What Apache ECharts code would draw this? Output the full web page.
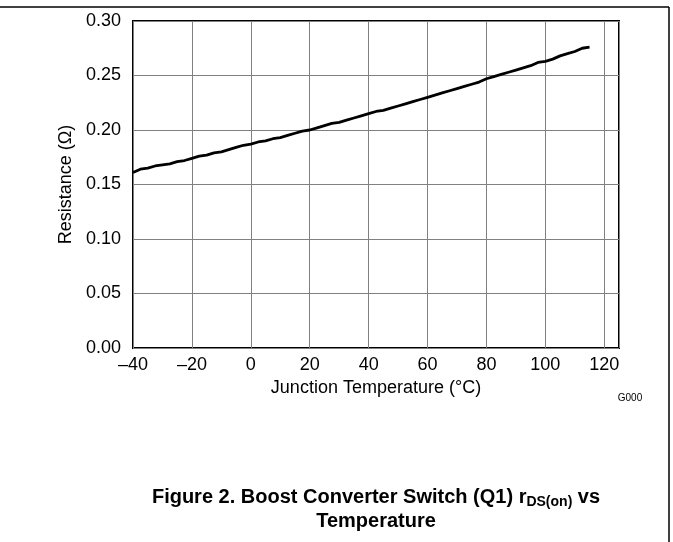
<!DOCTYPE html>
<html>
<head>
<meta charset="utf-8">
<script src="https://cdn.jsdelivr.net/npm/echarts@6/dist/echarts.min.js"></script>
<style>
html,body{margin:0;padding:0;background:#fff;}
#chart{width:673px;height:542px;}
</style>
</head>
<body>
<div id="chart"></div>
<script>
// Data
var temperature = [-40,-37.5,-35,-32.5,-30,-27.5,-25,-22.5,-20,-17.5,-15,-12.5,-10,-7.5,-5,-2.5,0,2.5,5,7.5,10,12.5,15,17.5,20,22.5,25,27.5,30,32.5,35,37.5,40,42.5,45,47.5,50,52.5,55,57.5,60,62.5,65,67.5,70,72.5,75,77.5,80,82.5,85,87.5,90,92.5,95,97.5,100,102.5,105,107.5,110,112.5,115];
var resistance = [0.161,0.164,0.165,0.167,0.168,0.169,0.171,0.172,0.174,0.176,0.177,0.179,0.180,0.182,0.184,0.186,0.187,0.189,0.190,0.192,0.193,0.195,0.197,0.199,0.200,0.202,0.204,0.206,0.207,0.209,0.211,0.213,0.215,0.217,0.218,0.220,0.222,0.224,0.226,0.228,0.230,0.232,0.234,0.236,0.238,0.240,0.242,0.244,0.247,0.249,0.251,0.253,0.255,0.257,0.259,0.262,0.263,0.265,0.268,0.270,0.272,0.275,0.276];
var xTicks = [-40,-20,0,20,40,60,80,100,120];
var yTicks = [0.00,0.05,0.10,0.15,0.20,0.25,0.30];
var xMax = 125;

var seriesData = temperature.map(function(t,i){return [t, resistance[i]];});
var FONT = '"Liberation Sans", Arial, sans-serif';

var chart = echarts.init(document.getElementById('chart'), null, {renderer:'canvas'});
chart.setOption({
  animation:false,
  backgroundColor:'#fff',
  grid:{left:133,right:54,top:21,bottom:194,show:true,borderColor:'#000',borderWidth:2,backgroundColor:'transparent'},
  xAxis:{
    type:'value', min:xTicks[0], max:xMax, interval:xTicks[1]-xTicks[0],
    name:'Junction Temperature (°C)', nameLocation:'middle', nameGap:29,
    nameTextStyle:{fontFamily:FONT,fontSize:18,color:'#000'},
    axisLine:{show:false}, axisTick:{show:false},
    axisLabel:{fontFamily:FONT,fontSize:18,color:'#000',margin:8,showMaxLabel:false,
      formatter:function(v){return v<0?'\u2013'+Math.abs(v):String(v);}},
    splitLine:{show:true,lineStyle:{color:'#808080',width:1}}
  },
  yAxis:{
    type:'value', min:yTicks[0], max:yTicks[yTicks.length-1], interval:yTicks[1]-yTicks[0],
    name:'Resistance (\u03A9)', nameLocation:'middle', nameGap:54,
    nameTextStyle:{fontFamily:FONT,fontSize:18,color:'#000'},
    axisLine:{show:false}, axisTick:{show:false},
    axisLabel:{fontFamily:FONT,fontSize:18,color:'#000',margin:12,
      formatter:function(v){return v.toFixed(2);}},
    splitLine:{show:true,lineStyle:{color:'#808080',width:1}}
  },
  series:[{
    type:'line', data:seriesData, showSymbol:false, smooth:false,
    lineStyle:{color:'#000',width:2.8}, z:3
  }],
  graphic:[
    {type:'line',shape:{x1:0,y1:7,x2:669,y2:7},style:{stroke:'#000',lineWidth:1.5},silent:true},
    {type:'line',shape:{x1:669,y1:7,x2:669,y2:542},style:{stroke:'#000',lineWidth:1.5},silent:true},
    {type:'text',x:630,y:398,style:{text:'G000',fontFamily:FONT,fontSize:10,fill:'#000',textAlign:'center',textVerticalAlign:'middle'}},
    {type:'text',x:376,y:497,style:{
      text:'{b|Figure 2. Boost Converter Switch (Q1) r}{s|DS(on)}{b| vs}',
      fontFamily:FONT,fill:'#000',textAlign:'center',textVerticalAlign:'middle',
      rich:{
        b:{fontFamily:FONT,fontSize:20,fontWeight:'bold',fill:'#000',lineHeight:24},
        s:{fontFamily:FONT,fontSize:14,fontWeight:'bold',fill:'#000',padding:[10,0,0,0],lineHeight:24}
      }}},
    {type:'text',x:376,y:521,style:{text:'Temperature',fontFamily:FONT,fontSize:20,fontWeight:'bold',fill:'#000',textAlign:'center',textVerticalAlign:'middle'}}
  ]
});
</script>
</body>
</html>
